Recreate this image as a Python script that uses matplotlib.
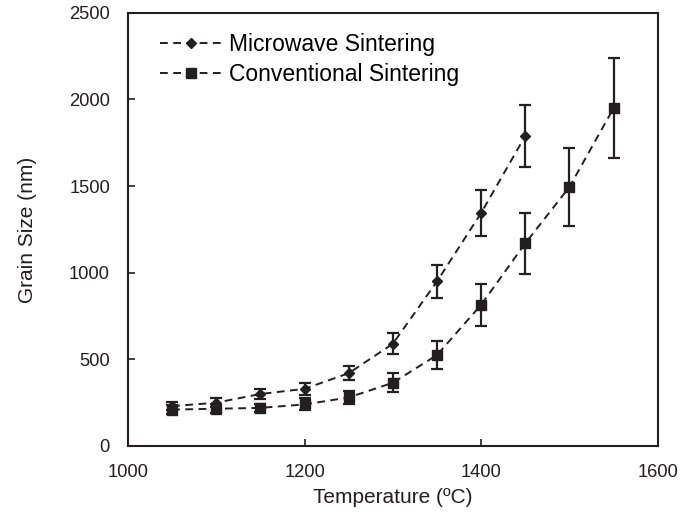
import matplotlib.pyplot as plt

plt.rcParams['font.family'] = ['Liberation Sans', 'DejaVu Sans']

# Microwave sintering
t_mw = [1050, 1100, 1150, 1200, 1250, 1300, 1350, 1400, 1450]
g_mw = [230, 250, 300, 330, 420, 590, 950, 1345, 1790]
e_mw = [25, 25, 30, 35, 40, 60, 95, 135, 180]

# Conventional sintering
t_cv = [1050, 1100, 1150, 1200, 1250, 1300, 1350, 1400, 1450, 1500, 1550]
g_cv = [210, 215, 220, 240, 280, 365, 525, 815, 1170, 1495, 1950]
e_cv = [25, 25, 25, 35, 40, 55, 80, 120, 175, 225, 290]

fig = plt.figure(figsize=(6.88, 5.15), dpi=100)
ax = fig.add_axes([0.186, 0.134, 0.770, 0.841])

col = '#231f20'
ax.errorbar(t_mw, g_mw, yerr=e_mw, fmt='none', ecolor=col, capsize=4.5,
            elinewidth=1.6, capthick=1.6, zorder=3)
ax.plot(t_mw, g_mw, '--D', color=col, ms=5.5, lw=1.4, dashes=(4, 2.8),
        label='Microwave Sintering', zorder=4)
ax.errorbar(t_cv, g_cv, yerr=e_cv, fmt='none', ecolor=col, capsize=4.5,
            elinewidth=1.6, capthick=1.6, zorder=3)
ax.plot(t_cv, g_cv, '--s', color=col, ms=7.5, lw=1.4, dashes=(4, 2.8),
        label='Conventional Sintering', zorder=4)

ax.set_xlim(1000, 1600)
ax.set_ylim(0, 2500)
ax.set_xticks([1000, 1200, 1400, 1600])
ax.set_yticks([0, 500, 1000, 1500, 2000, 2500])
ax.tick_params(direction='in', labelsize=13.2, color=col, width=1.2, length=5,
               labelcolor=col)
ax.tick_params(axis='x', pad=13)
ax.tick_params(axis='y', pad=13)
for s in ax.spines.values():
    s.set_linewidth(1.5)
    s.set_color(col)

ax.set_xlabel('Temperature (ºC)', fontsize=15, color=col, labelpad=5)
ax.set_ylabel('Grain Size (nm)', fontsize=15, color=col, labelpad=23)
ax.legend(loc='upper left', bbox_to_anchor=(0.022, 1.0), frameon=False,
          fontsize=16.5, handlelength=2.7, labelspacing=0.3,
          borderaxespad=0.6, handletextpad=0.3, borderpad=0.3)

plt.savefig('out.png', dpi=100)
